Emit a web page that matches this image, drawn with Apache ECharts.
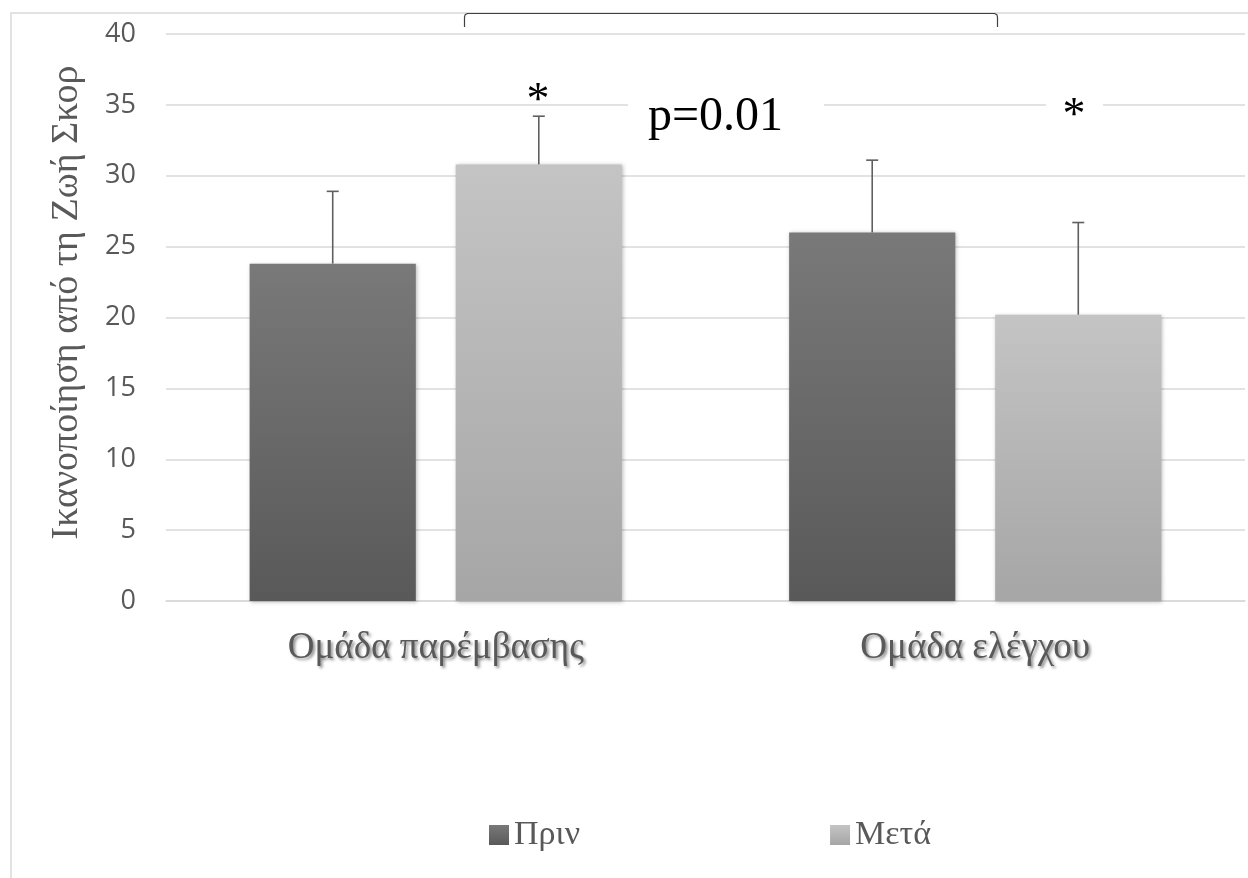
<!DOCTYPE html>
<html>
<head>
<meta charset="utf-8">
<script src="https://cdn.jsdelivr.net/npm/echarts@6/dist/echarts.min.js"></script>
<style>
  html, body { margin: 0; padding: 0; background: #ffffff; }
  #chart { width: 1248px; height: 878px; }
</style>
</head>
<body>
<div id="chart"></div>
<script>
// Groups and measured scores (mean and standard deviation)
const categories = ['Ομάδα παρέμβασης', 'Ομάδα ελέγχου'];
const seriesNames = ['Πριν', 'Μετά'];
const beforeMeans = [23.8, 26.0];
const afterMeans = [30.8, 20.2];
const beforeSD = [5.1, 5.1];
const afterSD = [3.4, 6.5];
const yTicks = [0, 5, 10, 15, 20, 25, 30, 35, 40];
const yAxisTitle = 'Ικανοποίηση από τη Ζωή Σκορ';
const pValueText = 'p=0.01';

const SERIF = '"Liberation Serif", "DejaVu Serif", serif';
const SANS = '"Open Sans", "Noto Sans", sans-serif';

const BAR_CATEGORY_GAP = 0.31;
const BAR_GAP = 0.24;

function grad(top, bottom) {
  return {
    type: 'linear', x: 0, y: 0, x2: 0, y2: 1,
    colorStops: [{ offset: 0, color: top }, { offset: 1, color: bottom }]
  };
}

// Upper whisker drawn from the bar top to mean + SD, placed over the matching bar
function errorSeries(means, sds, seriesIdx) {
  const data = means.map((m, i) => [i, m, m + sds[i]]);
  return {
    type: 'custom',
    name: seriesNames[seriesIdx] + ' SD',
    z: 5,
    silent: true,
    data: data,
    renderItem: function (params, api) {
      const cat = api.value(0);
      const band = api.size([1, 0])[0];
      const w = band * (1 - BAR_CATEGORY_GAP) / (2 + BAR_GAP);
      const off = (seriesIdx === 0 ? -1 : 1) * (w / 2 + w * BAR_GAP / 2);
      const base = api.coord([cat, api.value(1)]);
      const top = api.coord([cat, api.value(2)]);
      const x = base[0] + off;
      const cap = 6;
      const style = { stroke: '#5f5f5f', lineWidth: 1.6 };
      return {
        type: 'group',
        children: [
          { type: 'line', shape: { x1: x, y1: base[1], x2: x, y2: top[1] }, style: style },
          { type: 'line', shape: { x1: x - cap, y1: top[1], x2: x + cap, y2: top[1] }, style: style }
        ]
      };
    }
  };
}

const chart = echarts.init(document.getElementById('chart'), null, { renderer: 'canvas' });

const barShadow = {
  shadowBlur: 4,
  shadowColor: 'rgba(0,0,0,0.28)',
  shadowOffsetX: 1,
  shadowOffsetY: 1
};

chart.setOption({
  backgroundColor: '#ffffff',
  animation: false,
  grid: { left: 166, right: 3, top: 34, bottom: 277, containLabel: false },
  legend: {
    data: seriesNames,
    left: 484,
    top: 813,
    icon: 'rect',
    itemWidth: 20,
    itemHeight: 20,
    itemGap: 250,
    textStyle: { fontFamily: SERIF, fontSize: 34, color: '#595959' }
  },
  xAxis: {
    type: 'category',
    data: categories,
    axisLine: { show: true, lineStyle: { color: '#d9d9d9', width: 1.5 } },
    axisTick: { show: false },
    axisLabel: {
      fontFamily: SERIF,
      fontSize: 37,
      color: '#595959',
      margin: 47,
      verticalAlign: 'middle',
      textShadowColor: 'rgba(0,0,0,0.45)',
      textShadowBlur: 3,
      textShadowOffsetX: 2,
      textShadowOffsetY: 2
    }
  },
  yAxis: {
    type: 'value',
    min: yTicks[0],
    max: yTicks[yTicks.length - 1],
    interval: yTicks[1] - yTicks[0],
    name: yAxisTitle,
    nameLocation: 'middle',
    nameGap: 99,
    nameTextStyle: {
      fontFamily: SERIF, fontSize: 38, color: '#595959',
      verticalAlign: 'middle', padding: [0, 0, 0, 30]
    },
    axisLine: { show: false },
    axisTick: { show: false },
    axisLabel: { fontFamily: SANS, fontSize: 27, color: '#595959', margin: 30 },
    splitLine: { lineStyle: { color: '#d9d9d9', width: 1.5 } }
  },
  series: [
    {
      name: seriesNames[0],
      type: 'bar',
      data: beforeMeans,
      barGap: (BAR_GAP * 100) + '%',
      barCategoryGap: (BAR_CATEGORY_GAP * 100) + '%',
      itemStyle: Object.assign({ color: grad('#797979', '#595959') }, barShadow)
    },
    {
      name: seriesNames[1],
      type: 'bar',
      data: afterMeans,
      barGap: (BAR_GAP * 100) + '%',
      barCategoryGap: (BAR_CATEGORY_GAP * 100) + '%',
      itemStyle: Object.assign({ color: grad('#c4c4c4', '#a6a6a6') }, barShadow)
    },
    errorSeries(beforeMeans, beforeSD, 0),
    errorSeries(afterMeans, afterSD, 1)
  ],
  graphic: [
    // outer chart frame
    {
      type: 'rect', z: 1, silent: true,
      shape: { x: 11, y: 13, width: 1300, height: 900 },
      style: { fill: 'none', stroke: '#d9d9d9', lineWidth: 1.5 }
    },
    // comparison bracket between groups
    {
      type: 'polyline', z: 20, silent: true,
      shape: {
        points: [[464.5, 27], [464.5, 17], [465.2, 14.6], [467.5, 13.5],
                 [994.5, 13.5], [996.8, 14.6], [997.5, 17], [997.5, 27]]
      },
      style: { fill: 'none', stroke: '#404040', lineWidth: 1.2 }
    },
    // p-value label with white backing
    {
      type: 'rect', z: 20, silent: true,
      shape: { x: 628, y: 90, width: 196, height: 50 },
      style: { fill: '#ffffff' }
    },
    {
      type: 'text', z: 21, silent: true,
      style: { x: 648, y: 117, text: pValueText, font: '48px ' + SERIF, fill: '#000000', align: 'left', verticalAlign: 'middle' }
    },
    // significance marks
    {
      type: 'text', z: 21, silent: true,
      style: { x: 538, y: 102, text: '*', font: '46px ' + SERIF, fill: '#000000', align: 'center', verticalAlign: 'middle' }
    },
    {
      type: 'rect', z: 20, silent: true,
      shape: { x: 1046, y: 90, width: 57, height: 40 },
      style: { fill: '#ffffff' }
    },
    {
      type: 'text', z: 21, silent: true,
      style: { x: 1074, y: 117, text: '*', font: '46px ' + SERIF, fill: '#000000', align: 'center', verticalAlign: 'middle' }
    }
  ]
});
</script>
</body>
</html>
